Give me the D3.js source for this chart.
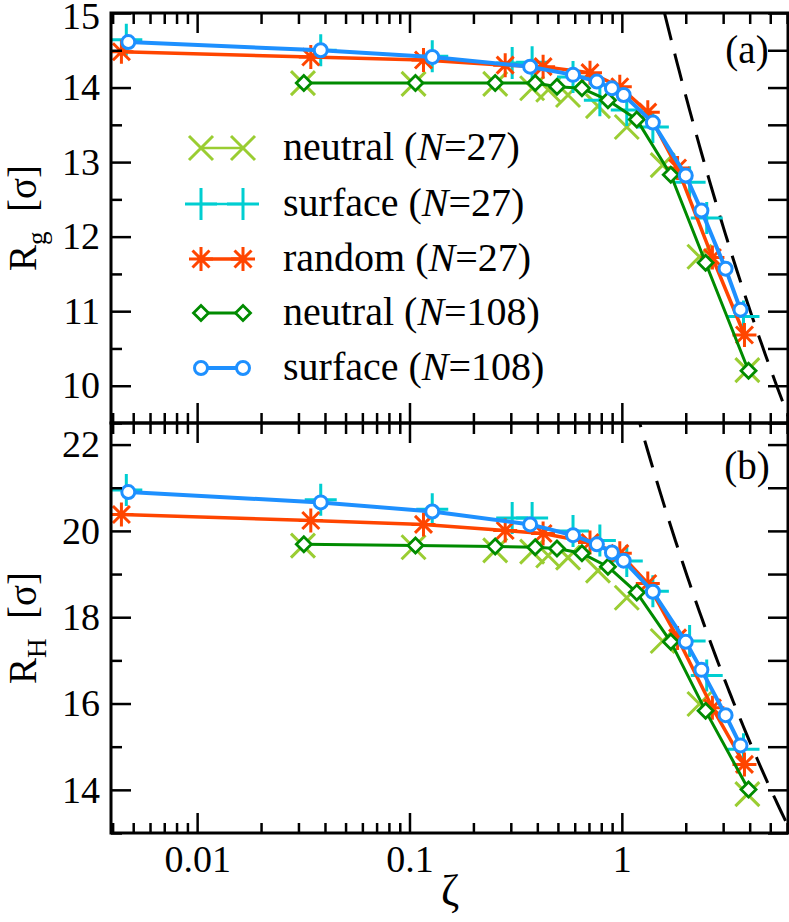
<!DOCTYPE html>
<html>
<head>
<meta charset="utf-8">
<script src="https://cdn.jsdelivr.net/npm/d3@7"></script>
<style>
  body { margin: 0; background: #fff; }
  svg { display: block; }
</style>
</head>
<body>
<div class="canvas"></div>
<script>
// Data
// neutral, N=27
const zetaNeutral27 = [0.0315, 0.1045, 0.2533, 0.378, 0.450, 0.558, 0.772, 1.055, 1.557, 2.32, 3.90];
const rgNeutral27   = [14.06, 14.05, 14.05, 13.99, 13.97, 13.90, 13.75, 13.47, 12.96, 11.73, 10.21];
const rhNeutral27   = [19.66, 19.62, 19.55, 19.52, 19.43, 19.38, 19.08, 18.45, 17.45, 15.99, 13.90];
// surface, N=27
const zetaSurface27 = [0.00464, 0.0382, 0.128, 0.3045, 0.378, 0.589, 0.788, 1.055, 1.40, 2.085, 2.51, 3.74];
const rgSurface27   = [14.64, 14.50, 14.42, 14.33, 14.34, 14.14, 13.83, 13.70, 13.47, 12.73, 12.25, 10.93];
const rhSurface27   = [20.95, 20.72, 20.50, 20.30, 20.30, 20.00, 19.78, 19.30, 18.60, 17.45, 16.65, 14.94];
// random, N=27
const zetaRandom27 = [0.0044, 0.0343, 0.1164, 0.2823, 0.4258, 0.708, 0.978, 1.325, 1.83, 2.67, 3.78];
const rgRandom27   = [14.48, 14.41, 14.37, 14.30, 14.28, 14.20, 14.01, 13.67, 12.92, 11.72, 10.68];
const rhRandom27   = [20.38, 20.24, 20.15, 20.01, 19.94, 19.73, 19.48, 18.78, 17.52, 15.90, 14.59];
// neutral, N=108
const zetaNeutral108 = [0.0318, 0.1067, 0.2533, 0.391, 0.495, 0.649, 0.860, 1.176, 1.70, 2.48, 3.95];
const rgNeutral108   = [14.06, 14.06, 14.06, 14.06, 14.01, 13.99, 13.83, 13.57, 12.83, 11.65, 10.20];
const rhNeutral108   = [19.69, 19.66, 19.64, 19.62, 19.59, 19.48, 19.17, 18.57, 17.43, 15.83, 14.01];
// surface, N=108
const zetaSurface108 = [0.00474, 0.0382, 0.128, 0.370, 0.589, 0.763, 0.898, 1.02, 1.40, 2.00, 2.37, 3.08, 3.62];
const rgSurface108   = [14.61, 14.50, 14.41, 14.28, 14.17, 14.08, 13.99, 13.90, 13.53, 12.82, 12.35, 11.57, 11.02];
const rhSurface108   = [20.90, 20.66, 20.45, 20.15, 19.90, 19.69, 19.50, 19.31, 18.59, 17.43, 16.78, 15.73, 15.03];

// dashed reference line R = A * zeta^(-1/3)
const guideA = { rg: 17.5, rh: 24.0 };
const guideExp = -1 / 3;

const legendNames = ['neutral (', 'surface (', 'random (', 'neutral (', 'surface ('];
const legendN = ['27', '27', '27', '108', '108'];

// Layout
const width = 789, height = 922;
const left = 111, right = 788;
const topA = 13, mid = 423, bottomB = 833;
const font = '"Liberation Serif", "Times New Roman", serif';

const svg = d3.select('.canvas')
    .append('svg')
    .attr('width', width)
    .attr('height', height)
    .style('font-family', font);

const x = d3.scaleLog().domain([0.00393, 6.06]).range([left, right]);
const yA = d3.scaleLinear().domain([9.5, 15]).range([mid, topA]);
const yB = d3.scaleLinear().domain([13, 22.5]).range([bottomB, mid]);

const xMajor = [0.01, 0.1, 1];
const xMinor = [];
[0.001, 0.01, 0.1, 1].forEach(d => {
    for (let k = 2; k <= 9; k++) {
        const v = d * k;
        if (v > 0.00393 && v < 6.06) xMinor.push(v);
    }
});

// only the random (N=27) set and the N=108 sets are joined by lines in the plot
const series = [
    { z: zetaNeutral27, rg: rgNeutral27, rh: rhNeutral27, color: '#9acd32', lw: 2.5, sym: 'x', line: false },
    { z: zetaSurface27, rg: rgSurface27, rh: rhSurface27, color: '#00ced1', lw: 2.5, sym: 'plus', line: false },
    { z: zetaRandom27, rg: rgRandom27, rh: rhRandom27, color: '#ff4500', lw: 3.5, sym: 'star', line: true },
    { z: zetaNeutral108, rg: rgNeutral108, rh: rhNeutral108, color: '#008b00', lw: 3, sym: 'diamond', line: true },
    { z: zetaSurface108, rg: rgSurface108, rh: rhSurface108, color: '#1e90ff', lw: 4, sym: 'circle', line: true }
];

const symPath = {
    x: 'M-12,-12L12,12M-12,12L12,-12',
    plus: 'M-16,0H16M0,-16V16',
    star: 'M0,-12V12M-12,0H12M-8.5,-8.5L8.5,8.5M-8.5,8.5L8.5,-8.5',
    diamond: 'M0,-7.5L7.5,0L0,7.5L-7.5,0Z'
};

function drawMarker(g, sym, color, cx, cy) {
    if (sym === 'circle') {
        g.append('circle').attr('cx', cx).attr('cy', cy).attr('r', 6.5)
            .attr('fill', '#fff').attr('stroke', color).attr('stroke-width', 3);
    } else {
        g.append('path').attr('d', symPath[sym])
            .attr('transform', `translate(${cx},${cy})`)
            .attr('fill', sym === 'diamond' ? '#fff' : 'none')
            .attr('stroke', color)
            .attr('stroke-width', sym === 'diamond' ? 2.8 : 3);
    }
}

function drawPanel(key, y, y0, y1, yMajor, yMinor, label, labelY) {
    const clipId = 'clip-' + key;
    svg.append('clipPath').attr('id', clipId)
        .append('rect').attr('x', left).attr('y', y1).attr('width', right - left).attr('height', y0 - y1);

    const plot = svg.append('g').attr('clip-path', `url(#${clipId})`);

    // dashed guide line
    const gz = d3.range(0, 101).map(i => Math.pow(10, Math.log10(0.8) + i * (Math.log10(7) - Math.log10(0.8)) / 100));
    plot.append('path')
        .attr('d', d3.line().x(d => x(d)).y(d => y(guideA[key] * Math.pow(d, guideExp)))(gz))
        .attr('fill', 'none').attr('stroke', '#000').attr('stroke-width', 3)
        .attr('stroke-dasharray', '28,14');

    series.forEach(s => {
        const pts = s.z.map((z, i) => [x(z), y(s[key][i])]);
        if (s.line) {
            plot.append('path')
                .attr('d', d3.line()(pts))
                .attr('fill', 'none').attr('stroke', s.color).attr('stroke-width', s.lw)
                .attr('stroke-linejoin', 'round');
        }
        pts.forEach(p => drawMarker(plot, s.sym, s.color, p[0], p[1]));
    });

    // axes (ticks point inward)
    const styleAxis = g => {
        g.select('.domain').remove();
        g.selectAll('line').attr('stroke', '#000').attr('stroke-width', 2.5);
        g.selectAll('text').attr('fill', '#000').style('font-family', font).style('font-size', '38px');
    };

    const showX = key === 'rh';
    svg.append('g').attr('transform', `translate(0,${y0})`)
        .call(d3.axisBottom(x).tickValues(xMajor).tickSize(-20).tickPadding(12)
            .tickFormat(showX ? (d => d >= 1 ? d3.format('d')(d) : String(d)) : ''))
        .call(styleAxis);
    svg.append('g').attr('transform', `translate(0,${y0})`)
        .call(d3.axisBottom(x).tickValues(xMinor).tickSize(-10).tickFormat(''))
        .call(styleAxis);
    svg.append('g').attr('transform', `translate(0,${y1})`)
        .call(d3.axisTop(x).tickValues(xMajor).tickSize(-20).tickFormat(''))
        .call(styleAxis);
    svg.append('g').attr('transform', `translate(0,${y1})`)
        .call(d3.axisTop(x).tickValues(xMinor).tickSize(-11).tickFormat(''))
        .call(styleAxis);

    const yAxis = svg.append('g').attr('transform', `translate(${left},0)`)
        .call(d3.axisLeft(y).tickValues(yMajor).tickSize(-20).tickPadding(11).tickFormat(d3.format('d')))
        .call(styleAxis);
    // the top label sits a little below the frame edge
    yAxis.selectAll('.tick text').filter(d => d === y.domain()[1]).attr('dy', '0.42em');
    svg.append('g').attr('transform', `translate(${left},0)`)
        .call(d3.axisLeft(y).tickValues(yMinor).tickSize(-11).tickFormat(''))
        .call(styleAxis);
    svg.append('g').attr('transform', `translate(${right},0)`)
        .call(d3.axisRight(y).tickValues(yMajor.concat(yMinor)).tickSize(-20).tickFormat(''))
        .call(styleAxis);

    svg.append('rect').attr('x', left).attr('y', y1).attr('width', right - left).attr('height', y0 - y1)
        .attr('fill', 'none').attr('stroke', '#000').attr('stroke-width', 3);

    svg.append('text').attr('x', 747).attr('y', labelY).attr('text-anchor', 'middle')
        .style('font-size', '39px').text(label);
}

drawPanel('rg', yA, mid, topA, [10, 11, 12, 13, 14, 15], [9.5, 10.5, 11.5, 12.5, 13.5, 14.5], '(a)', 63);
drawPanel('rh', yB, bottomB, mid, [14, 16, 18, 20, 22], [13, 15, 17, 19, 21], '(b)', 479);

// axis titles
function yTitle(cy, sub) {
    const t = svg.append('text')
        .attr('transform', `translate(36,${cy}) rotate(-90)`)
        .attr('text-anchor', 'middle')
        .style('font-size', '39px');
    t.append('tspan').text('R');
    t.append('tspan').attr('dy', 10).style('font-size', '27px').text(sub);
    t.append('tspan').attr('dy', -10).text('\u2002[\u03c3]');
}
yTitle(218, 'g');
yTitle(628, 'H');

svg.append('text').attr('x', 450).attr('y', 905).attr('text-anchor', 'middle')
    .style('font-size', '44px').text('\u03b6');

// legend
const legY = [148, 204, 259, 313, 368];
const leg = svg.append('g');
series.forEach((s, i) => {
    const cy = legY[i];
    leg.append('line').attr('x1', 201).attr('x2', 243).attr('y1', cy).attr('y2', cy)
        .attr('stroke', s.color).attr('stroke-width', s.lw);
    drawMarker(leg, s.sym, s.color, 201, cy);
    drawMarker(leg, s.sym, s.color, 243, cy);
    const t = leg.append('text').attr('x', 283).attr('y', cy + 12).style('font-size', '40px');
    t.append('tspan').text(legendNames[i]);
    t.append('tspan').style('font-style', 'italic').text('N');
    t.append('tspan').text('=' + legendN[i] + ')');
});
</script>
</body>
</html>
